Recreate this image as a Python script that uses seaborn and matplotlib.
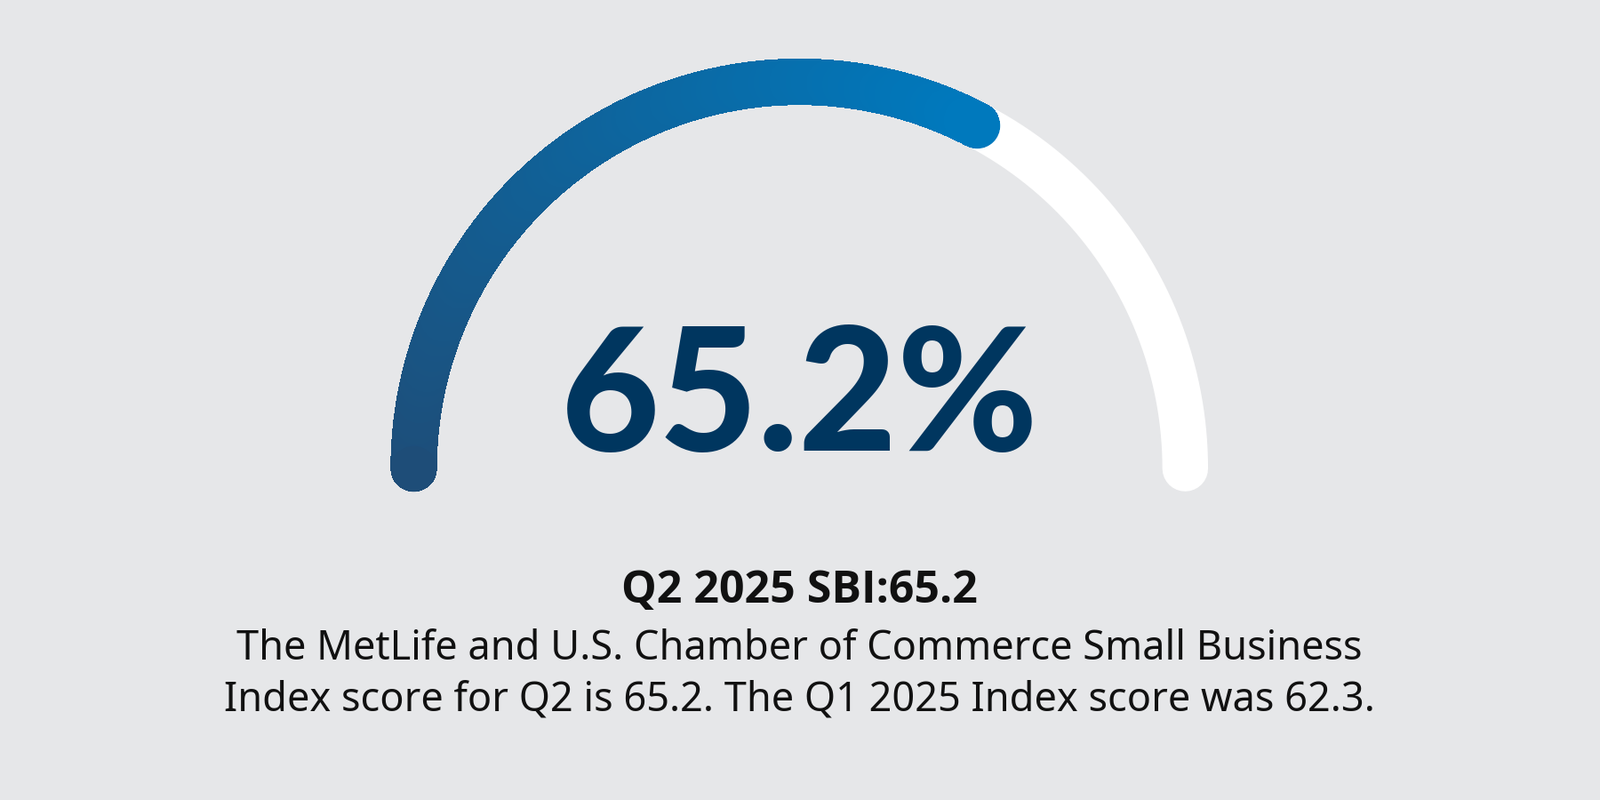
import numpy as np
import pandas as pd
import matplotlib
matplotlib.use("Agg")
import matplotlib.pyplot as plt
import seaborn as sns
from matplotlib.collections import LineCollection
from matplotlib.colors import LinearSegmentedColormap

# data
score = 65.2
score_max = 100.0
title = "Q2 2025 SBI:65.2"
caption = ["The MetLife and U.S. Chamber of Commerce Small Business",
           "Index score for Q2 is 65.2. The Q1 2025 Index score was 62.3."]

bg = "#e6e7e9"
navy = "#00365f"
sns.set_theme(style="white", rc={"axes.facecolor": bg, "figure.facecolor": bg})

fig = plt.figure(figsize=(18, 9), dpi=100)
ax = fig.add_axes([0, 0, 1, 1])
ax.set_xlim(0, 1568)
ax.set_ylim(782, 0)
ax.axis("off")

cx, cy, r = 783.5, 458, 378
lw = 37

# white track (full half circle)
t = np.linspace(np.pi, 0, 400)
track = pd.DataFrame({"x": cx + r * np.cos(t), "y": cy - r * np.sin(t)})
sns.lineplot(data=track, x="x", y="y", sort=False, color="white", lw=lw,
             solid_capstyle="round", ax=ax)

# gradient progress arc
end = np.pi * (1 - score / score_max)
tp = np.linspace(np.pi, end, 150)
xs, ys = cx + r * np.cos(tp), cy - r * np.sin(tp)
pts = np.array([xs, ys]).T.reshape(-1, 1, 2)
segs = np.concatenate([pts[:-1], pts[1:]], axis=1)
cmap = LinearSegmentedColormap.from_list("g", ["#1e4d78", "#0079bd"])
lc = LineCollection(segs, colors=cmap(np.linspace(0, 1, len(segs))), lw=lw,
                    capstyle="round", antialiaseds=False)
ax.add_collection(lc)
ax.scatter([xs[0]], [ys[0]], s=lw ** 2, color=cmap(0.0), zorder=3, lw=0)
ax.scatter([xs[-1]], [ys[-1]], s=lw ** 2, color=cmap(1.0), zorder=3, lw=0)

ax.text(cx, 392, f"{score}%", ha="center", va="center", fontsize=138,
        fontweight="heavy", family="Lato", color=navy)
ax.text(cx, 578, title, ha="center", va="center", fontsize=36,
        fontweight="bold", family="Open Sans", color="#111111")
for i, line in enumerate(caption):
    ax.text(cx, 634 + 50 * i, line, ha="center", va="center", fontsize=32.5,
            family="Noto Sans", color="#111111")

fig.savefig("out.png", dpi=100, facecolor=bg)
